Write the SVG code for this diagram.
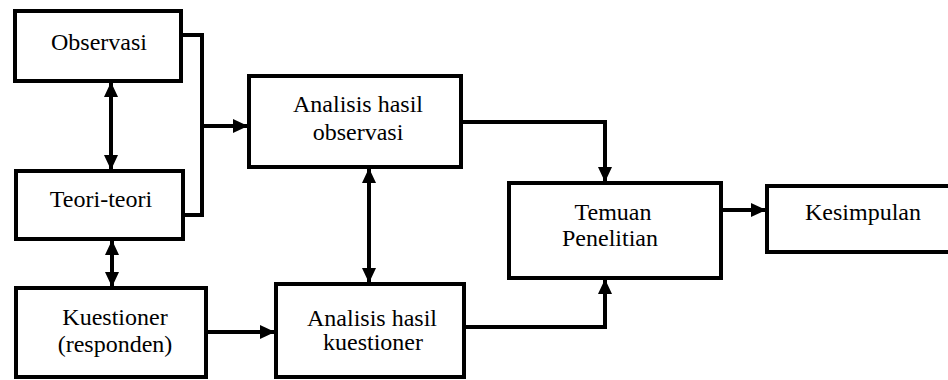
<svg xmlns="http://www.w3.org/2000/svg" width="948" height="380" viewBox="0 0 948 380">
<style>
.box{fill:#fff;stroke:#000;stroke-width:4}
.ln{fill:none;stroke:#000;stroke-width:4}
.t{font-family:'Liberation Serif','DejaVu Serif',serif;font-size:24px;fill:#000;text-anchor:middle}
</style>
<defs>
<marker id="ah" markerUnits="userSpaceOnUse" markerWidth="16" markerHeight="14" refX="14" refY="7" orient="auto-start-reverse">
<path d="M0,0 L15,7 L0,14 z" fill="#000"/>
</marker>
</defs>
<rect width="948" height="380" fill="#fff"/>
<g id="connectors">
<line class="ln" x1="111" y1="83" x2="111" y2="169" marker-start="url(#ah)" marker-end="url(#ah)"/>
<line class="ln" x1="112" y1="241" x2="112" y2="286" marker-start="url(#ah)" marker-end="url(#ah)"/>
<polyline class="ln" points="181,35 202,35 202,215 183,215"/>
<line class="ln" x1="202" y1="126" x2="247" y2="126" marker-end="url(#ah)"/>
<line class="ln" x1="369" y1="169" x2="369" y2="282" marker-start="url(#ah)" marker-end="url(#ah)"/>
<line class="ln" x1="206" y1="332" x2="274" y2="332" marker-end="url(#ah)"/>
<polyline class="ln" points="461,122 605,122 605,181" marker-end="url(#ah)"/>
<polyline class="ln" points="464,327 605,327 605,280" marker-end="url(#ah)"/>
<line class="ln" x1="721" y1="210" x2="765" y2="210" marker-end="url(#ah)"/>
</g>
<g id="observasi">
<rect class="box" x="15" y="11" width="166" height="70"/>
<text class="t" x="99" y="50">Observasi</text>
</g>
<g id="teori">
<rect class="box" x="16" y="171" width="167" height="68"/>
<text class="t" x="101" y="207">Teori-teori</text>
</g>
<g id="kuestioner">
<rect class="box" x="16" y="288" width="190" height="89"/>
<text class="t" x="115" y="325">Kuestioner</text>
<text class="t" x="115" y="352">(responden)</text>
</g>
<g id="analisis-observasi">
<rect class="box" x="249" y="76" width="212" height="91"/>
<text class="t" x="358" y="112">Analisis hasil</text>
<text class="t" x="358" y="140">observasi</text>
</g>
<g id="analisis-kuestioner">
<rect class="box" x="276" y="284" width="188" height="93"/>
<text class="t" x="372" y="326">Analisis hasil</text>
<text class="t" x="373" y="350">kuestioner</text>
</g>
<g id="temuan">
<rect class="box" x="509" y="183" width="212" height="95"/>
<text class="t" x="613" y="220">Temuan</text>
<text class="t" x="610" y="246">Penelitian</text>
</g>
<g id="kesimpulan">
<rect class="box" x="767" y="186" width="200" height="66"/>
<text class="t" x="863" y="220">Kesimpulan</text>
</g>
</svg>
